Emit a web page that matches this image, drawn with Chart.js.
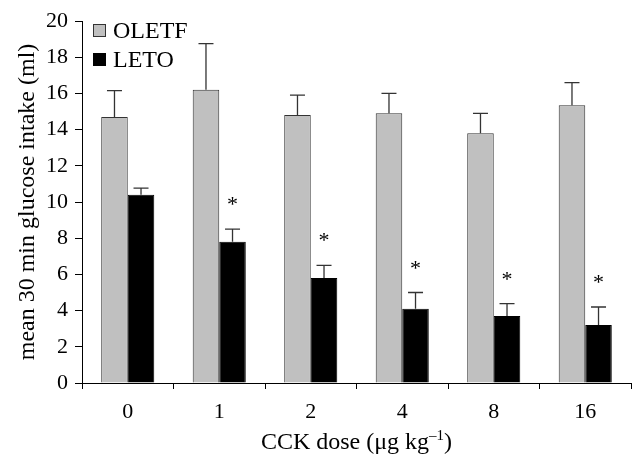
<!DOCTYPE html>
<html>
<head>
<meta charset="utf-8">
<script src="https://cdn.jsdelivr.net/npm/chart.js@4.4.0/dist/chart.umd.min.js"></script>
<style>
  body { margin: 0; background: #fff; }
  canvas { display: block; }
</style>
</head>
<body>
<canvas id="grafico" width="635" height="457"></canvas>
<script>
// Datos
const dosis = ['0', '1', '2', '4', '8', '16'];
const oletf = [14.7, 16.2, 14.8, 14.9, 13.8, 15.35];
const oletfError = [1.45, 2.55, 1.1, 1.1, 1.1, 1.25];
const leto = [10.4, 7.8, 5.8, 4.1, 3.7, 3.2];
const letoError = [0.37, 0.7, 0.7, 0.9, 0.68, 1.0];
const letoSignificativo = [false, true, true, true, true, true];
const ticksY = [0, 2, 4, 6, 8, 10, 12, 14, 16, 18, 20];

const fuente = '"Liberation Serif", "Times New Roman", serif';
const errores = [oletfError, letoError];

// Barras de error (solo hacia arriba) y asteriscos
const pluginErrores = {
    id: 'errores',
    afterDatasetsDraw(chart) {
        const ctx = chart.ctx;
        const y = chart.scales.y;
        ctx.save();
        ctx.strokeStyle = '#333';
        ctx.lineWidth = 1.3;
        chart.data.datasets.forEach((ds, i) => {
            const meta = chart.getDatasetMeta(i);
            meta.data.forEach((barra, j) => {
                const tope = y.getPixelForValue(ds.data[j] + errores[i][j]);
                ctx.beginPath();
                ctx.moveTo(barra.x, barra.y);
                ctx.lineTo(barra.x, tope);
                ctx.moveTo(barra.x - 7.5, tope);
                ctx.lineTo(barra.x + 7.5, tope);
                ctx.stroke();
                if (i === 1 && letoSignificativo[j]) {
                    ctx.fillStyle = '#000';
                    ctx.font = '22px ' + fuente;
                    ctx.textAlign = 'center';
                    ctx.textBaseline = 'alphabetic';
                    ctx.fillText('*', barra.x, tope - 18);
                }
            });
        });
        ctx.restore();
    }
};

// Leyenda dentro del área del gráfico
const pluginLeyenda = {
    id: 'leyenda',
    afterDraw(chart) {
        const ctx = chart.ctx;
        ctx.save();
        ctx.font = '24px ' + fuente;
        ctx.textAlign = 'left';
        ctx.textBaseline = 'alphabetic';
        chart.data.datasets.forEach((ds, i) => {
            const top = 24 + i * 29;
            ctx.fillStyle = ds.backgroundColor;
            ctx.fillRect(93, top, 13, 13);
            ctx.strokeStyle = ds.borderColor;
            ctx.lineWidth = 1;
            ctx.strokeRect(93.5, top + 0.5, 12, 12);
            ctx.fillStyle = '#000';
            ctx.fillText(ds.label, 113, top + 14);
        });
        ctx.restore();
    }
};

// Título del eje x con superíndice
const pluginTituloX = {
    id: 'tituloX',
    afterDraw(chart) {
        const ctx = chart.ctx;
        const area = chart.chartArea;
        const base = 'CCK dose (μg kg';
        const sup = '–1';
        const fin = ')';
        ctx.save();
        ctx.fillStyle = '#000';
        ctx.textBaseline = 'alphabetic';
        ctx.textAlign = 'left';
        ctx.font = '24px ' + fuente;
        const w1 = ctx.measureText(base).width;
        const w3 = ctx.measureText(fin).width;
        ctx.font = '15px ' + fuente;
        const w2 = ctx.measureText(sup).width;
        let x = (area.left + area.right) / 2 - (w1 + w2 + w3) / 2;
        const yb = 449;
        ctx.font = '24px ' + fuente;
        ctx.fillText(base, x, yb);
        x += w1;
        ctx.font = '15px ' + fuente;
        ctx.fillText(sup, x, yb - 9);
        x += w2;
        ctx.font = '24px ' + fuente;
        ctx.fillText(fin, x, yb);
        ctx.restore();
    }
};

const ctx = document.getElementById('grafico').getContext('2d');
const chart = new Chart(ctx, {
    type: 'bar',
    data: {
        labels: dosis,
        datasets: [{
            label: 'OLETF',
            data: oletf,
            backgroundColor: '#c0c0c0',
            borderColor: '#333',
            borderWidth: 1,
            categoryPercentage: 0.58,
            barPercentage: 1
        }, {
            label: 'LETO',
            data: leto,
            backgroundColor: '#000',
            borderColor: '#000',
            borderWidth: 1,
            categoryPercentage: 0.58,
            barPercentage: 1
        }]
    },
    options: {
        responsive: false,
        animation: false,
        layout: { padding: { top: 21, right: 4, left: 0, bottom: 0 } },
        plugins: {
            tooltip: { enabled: false },
            legend: { display: false }
        },
        scales: {
            x: {
                afterFit: s => { s.height = 74; },
                border: { color: '#000', width: 1 },
                grid: { drawOnChartArea: false, tickLength: 6, color: '#000', offset: true },
                ticks: { color: '#000', font: { family: fuente, size: 22 }, padding: 10 }
            },
            y: {
                min: 0,
                max: 20,
                afterFit: s => { s.width = 82; },
                afterBuildTicks: s => { s.ticks = ticksY.map(v => ({ value: v })); },
                border: { color: '#000', width: 1 },
                grid: { drawOnChartArea: false, tickLength: 7, color: '#000' },
                ticks: { color: '#000', font: { family: fuente, size: 22 }, padding: 7 },
                title: {
                    display: true,
                    text: 'mean 30 min glucose intake (ml)',
                    color: '#000',
                    font: { family: fuente, size: 24 },
                    padding: { top: 13, bottom: 0 }
                }
            }
        }
    },
    plugins: [pluginErrores, pluginLeyenda, pluginTituloX]
});
</script>
</body>
</html>
